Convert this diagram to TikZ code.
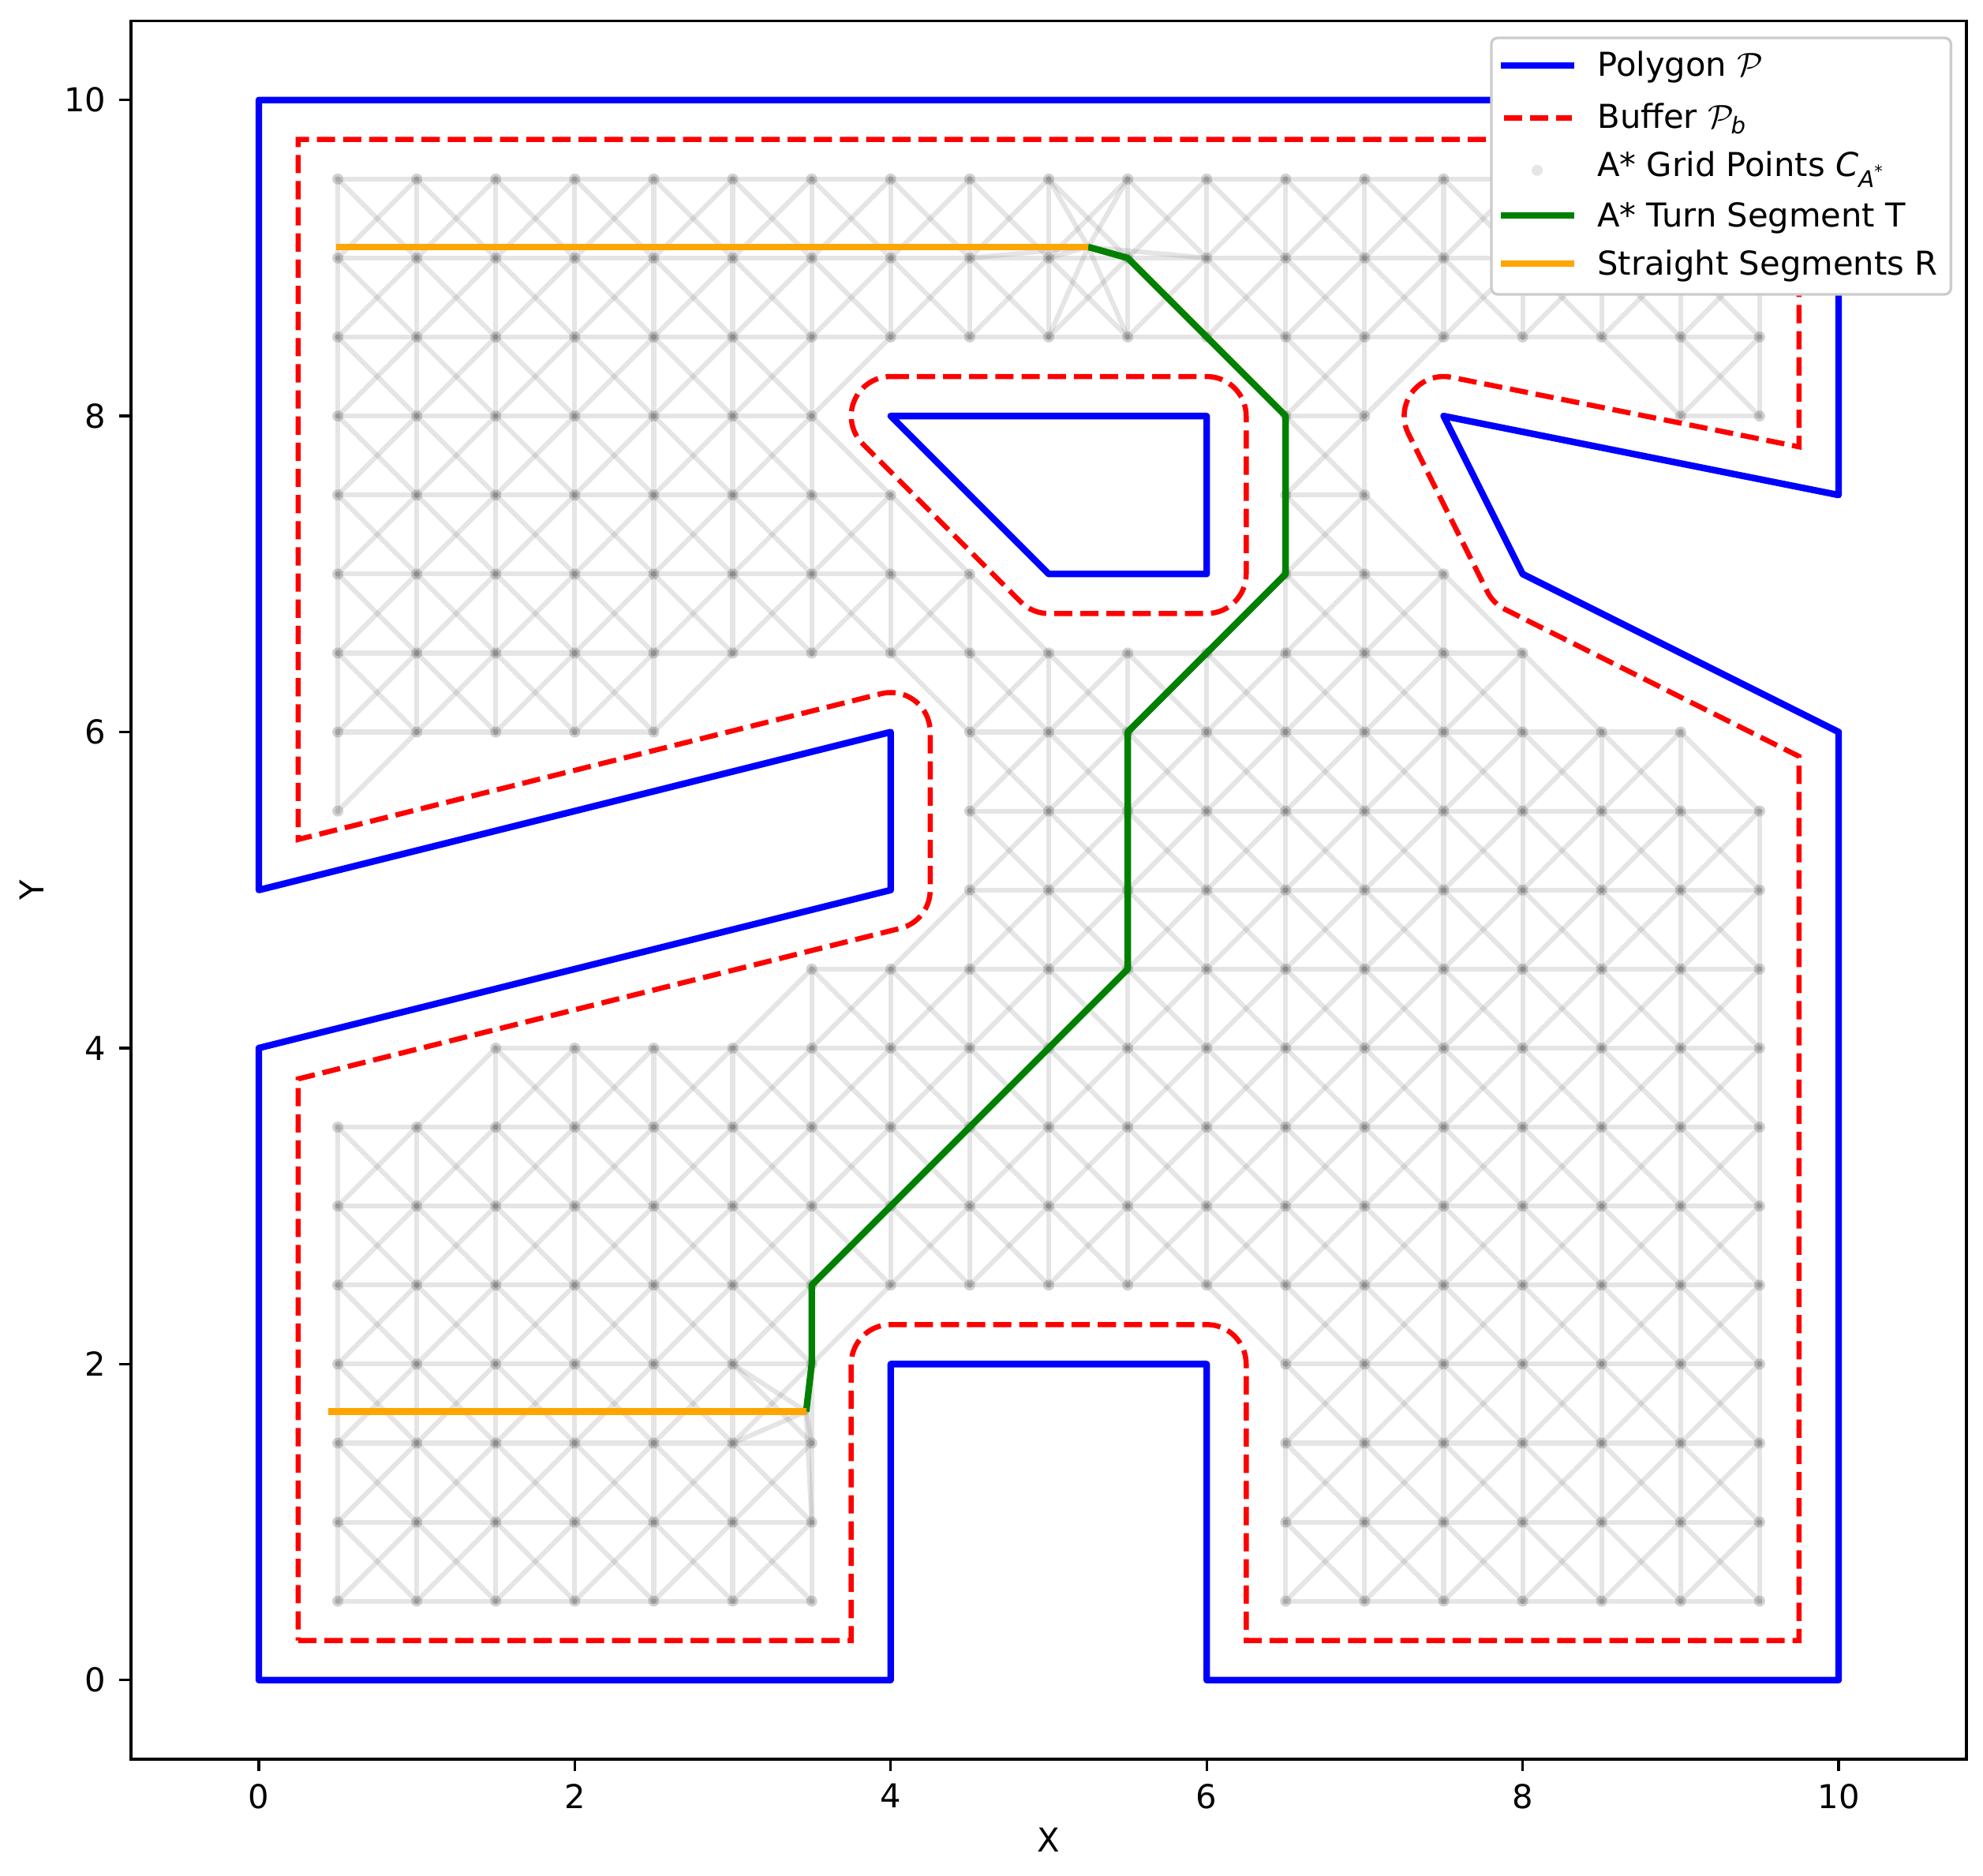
\documentclass[tikz,border=0pt]{standalone}
\usepackage{amsmath}
\usepackage{fontspec}
\setmainfont{DejaVu Sans}
\definecolor{mplgreen}{HTML}{008000}
\definecolor{mplorange}{HTML}{FFA500}
\definecolor{mplgray}{HTML}{808080}
\definecolor{legedge}{HTML}{CCCCCC}
\tikzset{
  gridedge/.style={draw=mplgray, opacity=0.2, line width=1.75pt, line cap=rect},
  griddot/.style={fill=mplgray, fill opacity=0.35},
  legdot/.style={fill=mplgray, fill opacity=0.2},
  polyline/.style={draw=blue, line width=2.37pt, line join=round},
  bufline/.style={draw=red, line width=1.85pt, dash pattern=on 6.58pt off 2.85pt},
  turnline/.style={draw=mplgreen, line width=2.37pt, line join=round},
  straightline/.style={draw=mplorange, line width=2.37pt},
  axisline/.style={draw=black, line width=0.95pt},
}
\newcommand\setrow[2]{\expandafter\def\csname rr#1\endcsname{#2}}
\setrow{1}{1/7,13/19}
\setrow{2}{1/7,13/19}
\setrow{3}{1/7,13/19}
\setrow{4}{1/7,13/19}
\setrow{5}{1/19}
\setrow{6}{1/19}
\setrow{7}{1/19}
\setrow{8}{3/19}
\setrow{9}{7/19}
\setrow{10}{9/19}
\setrow{11}{1/1,9/19}
\setrow{12}{1/5,9/18}
\setrow{13}{1/16}
\setrow{14}{1/9,13/15}
\setrow{15}{1/8,13/14}
\setrow{16}{1/7,13/14,18/19}
\setrow{17}{1/19}
\setrow{18}{1/19}
\setrow{19}{1/19}
\newif\ifgpin
\newcommand\gptest[2]{%
  \global\gpinfalse
  \ifnum#2>0 \ifnum#2<20
    \edef\gptmp{\csname rr\number#2\endcsname}%
    \foreach \ra/\rb in \gptmp {%
      \ifnum#1<\ra\relax\else\ifnum#1>\rb\relax\else\global\gpintrue\fi\fi}%
  \fi\fi}
\begin{document}
\begin{tikzpicture}[x=2.002cm,y=2.002cm,
  every node/.style={font=\fontsize{11.86}{14.2}\selectfont, inner sep=0pt}]
\fill[white] (-1.638,-1.235) rectangle (10.914,10.633);
\useasboundingbox (-1.638,-1.235) rectangle (10.914,10.633);

% start / end points of the A* search
\coordinate (S1) at (5.25,9.07);
\coordinate (S2) at (3.465,1.70);
\coordinate (R1) at (0.49,9.07);
\coordinate (R2) at (0.44,1.70);

% grid edges (8-connected)
\foreach \j in {1,...,19}{%
  \edef\curlist{\csname rr\j\endcsname}%
  \foreach \pa/\pb in \curlist {%
    \foreach \i in {\pa,...,\pb}{%
      \ifnum\i<\pb\relax
        \draw[gridedge] (\i*0.5,\j*0.5) -- ({(\i+1)*0.5},\j*0.5);
      \fi
      \ifnum\j<19\relax
        \foreach \di in {-1,0,1}{%
          \pgfmathtruncatemacro\ni{\i+\di}%
          \pgfmathtruncatemacro\nj{\j+1}%
          \gptest{\ni}{\nj}%
          \ifgpin \draw[gridedge] (\i*0.5,\j*0.5) -- (\ni*0.5,\nj*0.5); \fi
        }%
      \fi
    }%
  }%
}
% connections of the end points to the grid
\foreach \qx/\qy in {4.5/9,5/9,5.5/9,6/9,5/9.5,5.5/9.5,5/8.5,5.5/8.5}
  \draw[gridedge] (S1) -- (\qx,\qy);
\foreach \qx/\qy in {3.5/1.5,3.5/2,3/1.5,3/2,3.5/1}
  \draw[gridedge] (S2) -- (\qx,\qy);
% grid points
\foreach \j in {1,...,19}{%
  \edef\curlist{\csname rr\j\endcsname}%
  \foreach \pa/\pb in \curlist {%
    \foreach \i in {\pa,...,\pb}{%
      \fill[griddot] (\i*0.5,\j*0.5) circle[radius=0.07cm];
    }%
  }%
}

% polygon
\draw[polyline] (0,0) -- (4,0) -- (4,2) -- (6,2) -- (6,0) -- (10,0) -- (10,6) -- (8,7)
  -- (7.5,8) -- (10,7.5) -- (10,10) -- (0,10) -- (0,5) -- (4,6) -- (4,5) -- (0,4) -- cycle;
\draw[polyline] (4,8) -- (6,8) -- (6,7) -- (5,7) -- cycle;

% buffer
\draw[bufline] (0.25,0.25) -- (3.75,0.25) -- (3.75,2)
  arc[start angle=180,end angle=90,radius=0.25] -- (6,2.25)
  arc[start angle=90,end angle=0,radius=0.25] -- (6.25,0.25) -- (9.75,0.25)
  -- (9.75,5.8455) -- (7.8882,6.7764)
  arc[start angle=243.435,end angle=206.565,radius=0.25] -- (7.2764,7.8882)
  arc[start angle=206.565,end angle=78.69,radius=0.25] -- (9.75,7.805)
  -- (9.75,9.75) -- (0.25,9.75) -- (0.25,5.3202) -- (3.9394,6.2425)
  arc[start angle=104.036,end angle=0,radius=0.25] -- (4.25,5)
  arc[start angle=0,end angle=-75.964,radius=0.25] -- (0.25,3.8048) -- cycle;
\draw[bufline] (4,8.25) -- (6,8.25)
  arc[start angle=90,end angle=0,radius=0.25] -- (6.25,7)
  arc[start angle=0,end angle=-90,radius=0.25] -- (5,6.75)
  arc[start angle=-90,end angle=-135,radius=0.25] -- (3.8232,7.8232)
  arc[start angle=225,end angle=90,radius=0.25] -- cycle;

% path
\draw[turnline] (S1) -- (5.5,9) -- (6.5,8) -- (6.5,7) -- (5.5,6) -- (5.5,4.5)
  -- (3.5,2.5) -- (3.5,2) -- (S2);
\draw[straightline] (R1) -- (S1);
\draw[straightline] (R2) -- (S2);

% axes
\draw[axisline] (-0.809,-0.5) rectangle (10.809,10.5);
\foreach \t in {0,2,4,6,8,10}{%
  \draw[axisline] (\t,-0.5) -- (\t,-0.573);
  \node[anchor=north] (xt\t) at (\t,-0.653) {\t};
  \draw[axisline] (-0.809,\t) -- (-0.882,\t);
  \node[anchor=east] (yt\t) at (-0.9626,\t) {\t};
}
\node[anchor=base] (xlab) at (5,-1.089) {X};
\node[anchor=base, rotate=90] (ylab) at (-1.359,5) {Y};

% legend
\draw[draw=legedge, fill=white, line width=0.95pt, rounded corners=0.08cm]
  (7.802,8.770) rectangle (10.711,10.393);
\draw[polyline] (7.862,10.217) -- (8.327,10.217);
\draw[bufline] (7.882,9.887) -- (8.312,9.887);
\fill[legdot] (8.092,9.555) circle[radius=0.07cm];
\draw[turnline] (7.862,9.268) -- (8.327,9.268);
\draw[straightline] (7.862,8.964) -- (8.327,8.964);
\node[anchor=base west] (lg1) at (8.47,10.150) {Polygon $\mathcal{P}$};
\node[anchor=base west] (lg2) at (8.47,9.822) {Buffer $\mathcal{P}_{\textit{b}}$};
\node[anchor=base west] (lg3) at (8.47,9.514) {A* Grid Points $\textit{C}_{\textit{A}^{\text{*}}}$};
\node[anchor=base west] (lg4) at (8.47,9.198) {A* Turn Segment T};
\node[anchor=base west] (lg5) at (8.47,8.893) {Straight Segments R};
\end{tikzpicture}
\end{document}
